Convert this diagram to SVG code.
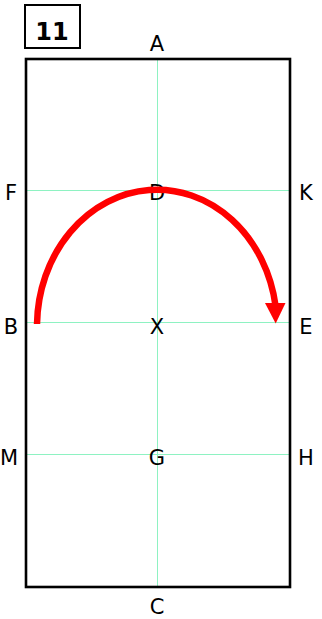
<svg xmlns="http://www.w3.org/2000/svg" width="322" height="619" viewBox="0 0 322 619">
<style>
.guide{stroke:#8ef2c2;stroke-width:1;fill:none}
.lbl{font-family:"DejaVu Sans",Verdana,sans-serif;font-size:21px;fill:#000;text-anchor:middle}
.num{font-family:"DejaVu Sans",Verdana,sans-serif;font-size:24px;font-weight:bold;fill:#000;text-anchor:middle}
</style>
<rect width="322" height="619" fill="#fff"/>
<g id="guides">
<line class="guide" x1="157.5" y1="59" x2="157.5" y2="587"/>
<line class="guide" x1="26" y1="190.5" x2="290" y2="190.5"/>
<line class="guide" x1="26" y1="322.5" x2="290" y2="322.5"/>
<line class="guide" x1="26" y1="454.5" x2="290" y2="454.5"/>
</g>
<g id="arena">
<rect x="26" y="59" width="264" height="528" fill="none" stroke="#000" stroke-width="2.6"/>
</g>
<g id="title">
<rect x="25" y="5" width="55" height="43" fill="#fff" stroke="#000" stroke-width="2"/>
<text class="num" x="52" y="40">11</text>
</g>
<g id="labels">
<text class="lbl" x="157" y="51">A</text>
<text class="lbl" x="11" y="200">F</text>
<text class="lbl" x="157" y="200">D</text>
<text class="lbl" x="306" y="200">K</text>
<text class="lbl" x="11" y="334">B</text>
<text class="lbl" x="157" y="334">X</text>
<text class="lbl" x="306" y="334">E</text>
<text class="lbl" x="9" y="465">M</text>
<text class="lbl" x="157" y="465">G</text>
<text class="lbl" x="306" y="465">H</text>
<text class="lbl" x="157" y="614">C</text>
</g>
<g id="connectors">
<path d="M37 324 A120 137 0 0 1 275.6 306" fill="none" stroke="#f00" stroke-width="6.5"/>
<polygon points="265,303 285.5,303 275.7,323.5" fill="#f00"/>
</g>
</svg>
